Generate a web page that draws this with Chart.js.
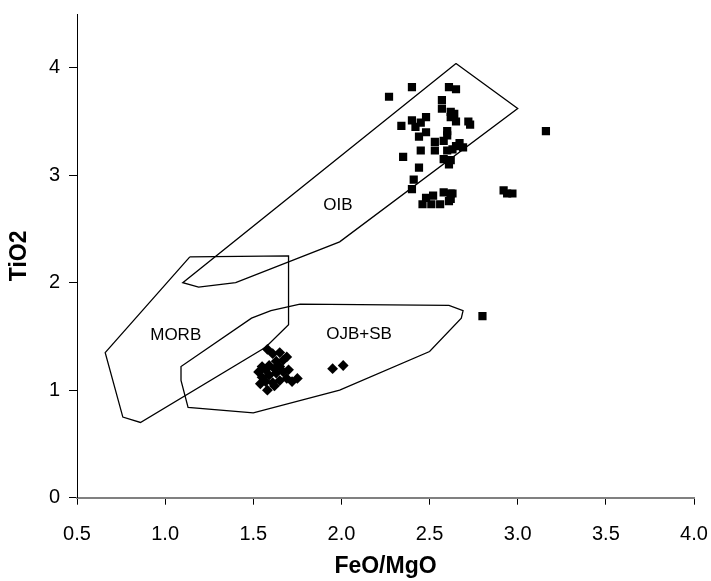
<!DOCTYPE html>
<html lang="en">
<head>
<meta charset="UTF-8">
<title>TiO2 vs FeO/MgO</title>
<style>
    body { margin: 0; background: #fff; }
    canvas { display: block; }
</style>
</head>
<body>
<canvas id="chart" width="711" height="581"></canvas>

<script src="https://cdn.jsdelivr.net/npm/chart.js"></script>
<script>
// Samples drawn as squares
const sqFeoMgo = [2.27, 2.40, 2.61, 2.65, 2.57, 2.57, 2.62, 2.64, 2.62, 2.65,
                  2.34, 2.40, 2.45, 2.48, 2.42, 2.48, 2.44, 2.60, 2.60, 2.72,
                  2.73, 2.53, 2.58, 2.53, 2.60, 2.63, 2.65, 2.67, 2.69, 2.45,
                  2.35, 2.58, 2.62, 2.61, 2.44, 2.41, 2.40, 3.16, 2.48, 2.52,
                  2.46, 2.51, 2.56, 2.58, 2.62, 2.63, 2.61, 2.62, 2.92, 2.94,
                  2.97, 2.80];
const sqTio2   = [3.73, 3.82, 3.82, 3.80, 3.70, 3.62, 3.59, 3.57, 3.54, 3.50,
                  3.46, 3.51, 3.49, 3.54, 3.45, 3.40, 3.36, 3.41, 3.37, 3.50,
                  3.47, 3.31, 3.32, 3.23, 3.23, 3.24, 3.27, 3.30, 3.26, 3.23,
                  3.17, 3.15, 3.14, 3.10, 3.07, 2.96, 2.87, 3.41, 2.79, 2.81,
                  2.73, 2.73, 2.73, 2.84, 2.83, 2.83, 2.76, 2.78, 2.86, 2.83,
                  2.83, 1.69];

// Samples drawn as diamonds
const dmFeoMgo = [1.58, 1.61, 1.65, 1.69, 1.67, 1.63, 1.55, 1.59, 1.53, 1.57,
                  1.62, 1.65, 1.55, 1.59, 1.63, 1.67, 1.70, 1.57, 1.61, 1.65,
                  1.69, 1.72, 1.75, 1.58, 1.62, 1.54, 1.95, 2.01];
const dmTio2   = [1.38, 1.34, 1.35, 1.31, 1.28, 1.27, 1.22, 1.23, 1.17, 1.19,
                  1.20, 1.22, 1.12, 1.14, 1.16, 1.17, 1.19, 1.08, 1.07, 1.09,
                  1.11, 1.08, 1.11, 1.00, 1.04, 1.06, 1.20, 1.23];

// Field boundaries (closed outlines)
const oibX  = [2.65, 3.00, 1.99, 1.40, 1.19, 1.10, 2.65];
const oibY  = [4.04, 3.62, 2.38, 2.00, 1.96, 2.00, 4.04];
const morbX = [1.14, 1.70, 1.70, 1.57, 0.86, 0.76, 0.66, 1.14];
const morbY = [2.24, 2.25, 1.61, 1.40, 0.70, 0.75, 1.35, 2.24];
const ojbX  = [1.765, 2.61, 2.69, 2.68, 2.50, 1.99, 1.50, 1.13, 1.09, 1.09, 1.49, 1.60, 1.765];
const ojbY  = [1.80, 1.79, 1.74, 1.67, 1.36, 1.00, 0.79, 0.84, 1.09, 1.22, 1.67, 1.74, 1.80];

// Field names and where they sit
const fieldNames  = ['OIB', 'MORB', 'OJB+SB'];
const fieldLabelX = [1.98, 1.06, 2.10];
const fieldLabelY = [2.72, 1.51, 1.52];

function pts(xs, ys) {
    return xs.map((x, i) => ({ x: x, y: ys[i] }));
}

function outline(xs, ys) {
    return {
        data: pts(xs, ys),
        showLine: true,
        borderColor: '#000',
        borderWidth: 1.3,
        pointRadius: 0,
        tension: 0,
        fill: false
    };
}

// Fixed box size, no extra padding from the labels
function fixBox(s, w, h) {
    if (w) s.width = w;
    if (h) s.height = h;
    s.paddingLeft = s.paddingRight = s.paddingTop = s.paddingBottom = 0;
}

// Writes the field names at their data positions
const fieldLabels = {
    id: 'fieldLabels',
    afterDatasetsDraw(chart) {
        const ctx = chart.ctx;
        const xs = chart.scales.x, ys = chart.scales.y;
        ctx.save();
        ctx.font = '17px "Liberation Sans", Arial, sans-serif';
        ctx.fillStyle = '#000';
        ctx.textAlign = 'center';
        ctx.textBaseline = 'middle';
        fieldNames.forEach((name, i) => {
            ctx.fillText(name, xs.getPixelForValue(fieldLabelX[i]), ys.getPixelForValue(fieldLabelY[i]));
        });
        ctx.restore();
    }
};

Chart.defaults.font.family = '"Liberation Sans", Arial, sans-serif';
Chart.defaults.color = '#000';

new Chart(document.getElementById('chart'), {
    type: 'scatter',
    data: {
        datasets: [
            outline(oibX, oibY),
            outline(morbX, morbY),
            outline(ojbX, ojbY),
            {
                data: pts(sqFeoMgo, sqTio2),
                pointStyle: 'rect',
                pointRadius: 5.8,
                backgroundColor: '#000',
                borderWidth: 0
            },
            {
                data: pts(dmFeoMgo, dmTio2),
                pointStyle: 'rectRot',
                pointRadius: 5.4,
                backgroundColor: '#000',
                borderWidth: 0
            }
        ]
    },
    options: {
        responsive: false,
        animation: false,
        devicePixelRatio: 1,
        layout: { padding: { left: 0, right: 17, top: 14, bottom: 0 } },
        plugins: {
            legend: { display: false },
            tooltip: { enabled: false }
        },
        scales: {
            x: {
                type: 'linear',
                min: 0.5,
                max: 4.0,
                afterFit: s => fixBox(s, 0, 83.3),
                border: { color: '#808080', width: 2 },
                grid: { drawOnChartArea: false, drawTicks: true, tickLength: 7, color: '#000' },
                ticks: {
                    stepSize: 0.5,
                    padding: 18,
                    font: { size: 20 },
                    callback: v => v.toFixed(1)
                },
                title: {
                    display: true,
                    text: 'FeO/MgO',
                    font: { size: 23, weight: 'bold' },
                    padding: { top: 0, bottom: 1 }
                }
            },
            y: {
                type: 'linear',
                min: 0,
                max: 4.5,
                afterFit: s => fixBox(s, 77, 0),
                afterBuildTicks: s => { s.ticks = s.ticks.filter(t => Number.isInteger(t.value)); },
                border: { color: '#000', width: 1 },
                grid: { drawOnChartArea: false, drawTicks: true, tickLength: 8, color: '#000' },
                ticks: {
                    stepSize: 1,
                    padding: 9,
                    font: { size: 20 }
                },
                title: {
                    display: true,
                    text: 'TiO2',
                    font: { size: 23, weight: 'bold' },
                    padding: { top: 6, bottom: 0 }
                }
            }
        }
    },
    plugins: [fieldLabels]
});
</script>
</body>
</html>
